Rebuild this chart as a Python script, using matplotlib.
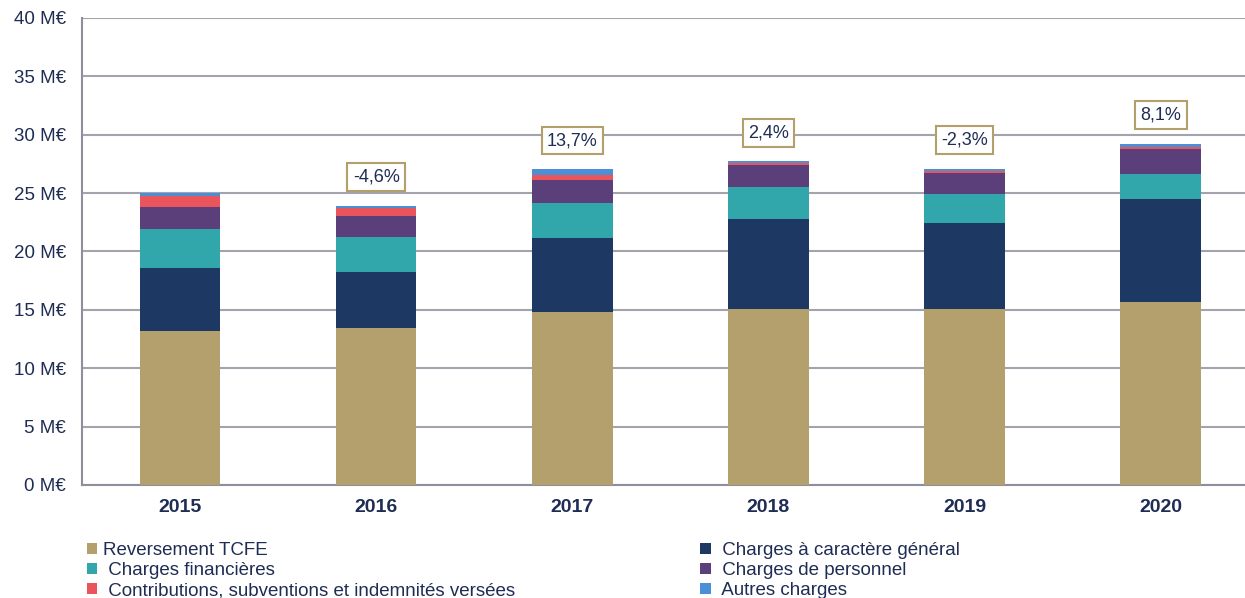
import matplotlib.pyplot as plt
import numpy as np
from matplotlib.patches import Patch

plt.rcParams['font.family'] = ['Liberation Sans', 'DejaVu Sans']

#---------------------------------- data (M€) ----------------------------------
years = ['2015', '2016', '2017', '2018', '2019', '2020']

tcfe = [13.2, 13.45, 14.8, 15.05, 15.05, 15.65]
generales = [5.4, 4.8, 6.34, 7.73, 7.36, 8.82]
financieres = [3.3, 3.0, 3.0, 2.74, 2.52, 2.17]
personnel = [1.9, 1.8, 1.94, 1.92, 1.82, 2.17]
contributions = [0.95, 0.63, 0.46, 0.14, 0.15, 0.11]
autres = [0.25, 0.23, 0.51, 0.14, 0.19, 0.29]

evolution = ['', '-4,6%', '13,7%', '2,4%', '-2,3%', '8,1%']

yticks = [0, 5, 10, 15, 20, 25, 30, 35, 40]

#---------------------------------- style ----------------------------------
navy_txt = '#1f2d54'
c_tcfe = '#b3a06c'
c_gen = '#1d3862'
c_fin = '#31a7ab'
c_pers = '#5b3f7a'
c_contrib = '#e9555a'
c_autres = '#4b8fd6'

# legend labels keep the leading space of the original chart
series = [
    ('Reversement TCFE', tcfe, c_tcfe),
    (' Charges à caractère général', generales, c_gen),
    (' Charges financières', financieres, c_fin),
    (' Charges de personnel', personnel, c_pers),
    (' Contributions, subventions et indemnités versées', contributions, c_contrib),
    (' Autres charges', autres, c_autres),
]

fig = plt.figure(figsize=(12.45, 5.98), dpi=100)
ax = fig.add_axes([0.0659, 0.189, 0.9341, 0.781])

x = np.arange(len(years))
bottom = np.zeros(len(years))
for name, vals, col in series:
    ax.bar(x, vals, 0.41, bottom=bottom, color=col, label=name, zorder=3)
    bottom += np.array(vals)

# evolution labels
for i, txt in enumerate(evolution):
    if txt:
        ax.text(x[i], bottom[i] + 2.45, txt, ha='center', va='center', fontsize=13,
                color=navy_txt, zorder=4,
                bbox=dict(boxstyle='square,pad=0.3', fc='white', ec='#b39f6a', lw=1.5))

ax.set_xlim(-0.5, 5.43)
ax.set_ylim(0, 40)
ax.set_yticks(yticks)
ax.set_yticklabels([f'{v} M€' for v in yticks], fontsize=13.5)
ax.set_xticks(x)
ax.set_xticklabels(years, fontweight='bold', fontsize=14)
ax.tick_params(axis='both', length=0, colors=navy_txt)
ax.tick_params(axis='y', pad=11.5)
ax.tick_params(axis='x', pad=10)
ax.grid(axis='y', color='#a3a3ad', lw=1.5, zorder=0)
for s in ['top', 'right']:
    ax.spines[s].set_visible(False)
for s in ['left', 'bottom']:
    ax.spines[s].set_color('#8e8e9c')
    ax.spines[s].set_linewidth(1.5)

# legend: left column then right column
order = [0, 2, 4, 1, 3, 5]
handles = [Patch(facecolor=series[k][2], edgecolor='none') for k in order]
labels = [series[k][0] for k in order]
fig.legend(handles, labels, ncol=2, loc='upper left', bbox_to_anchor=(0.070, 0.093),
           frameon=False, fontsize=13.5, handlelength=0.55, handleheight=0.55,
           handletextpad=0.32, columnspacing=9.85, labelspacing=0.15,
           labelcolor=navy_txt, borderpad=0, borderaxespad=0)

plt.savefig('out.png', dpi=100)
